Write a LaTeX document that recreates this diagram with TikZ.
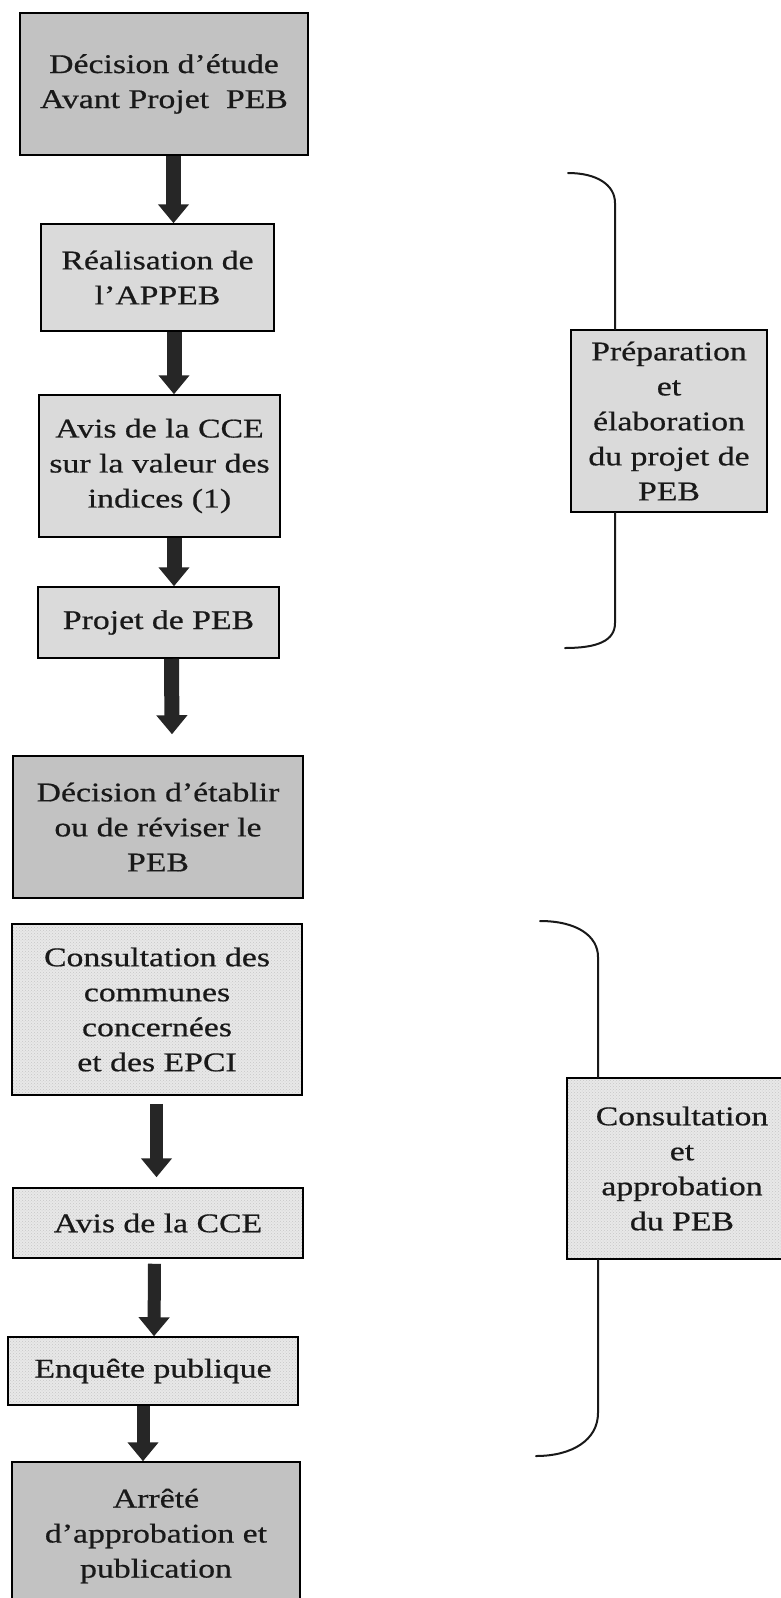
\documentclass[tikz,border=0pt]{standalone}
\usepackage{fontspec}
\setmainfont{Liberation Serif}[FakeStretch=1.25,FakeBold=0.6]
\usetikzlibrary{arrows.meta,patterns}
\definecolor{darkfill}{HTML}{C2C2C2}
\definecolor{lightfill}{HTML}{DADADA}
\definecolor{dotfill}{HTML}{E8E8E8}
\definecolor{arrowcol}{HTML}{262626}
\tikzset{
  box/.style={draw=black, line width=1.5pt, inner sep=0pt, align=center,
    font=\fontsize{27pt}{35pt}\selectfont, text=black!90},
  darkbox/.style={box, fill=darkfill},
  lightbox/.style={box, fill=lightfill},
  dotbox/.style={box, preaction={fill=dotfill}, pattern=crosshatch dots, pattern color=black!22},
  bigarrow/.style={draw=arrowcol, color=arrowcol, line width=15pt,
    -{Triangle[width=30pt,length=19pt]}},
  smallarrow/.style={bigarrow, line width=13pt},
  bracket/.style={draw=black!90, line width=2pt, line cap=round},
}
\begin{document}
\begin{tikzpicture}[x=1pt,y=-1pt]
\useasboundingbox (0,0) rectangle (781,1598);
\fill[white] (0,0) rectangle (781,1598);
\clip (0,0) rectangle (781,1598);

% left column
\node[darkbox, minimum width=288pt, minimum height=142pt] (b1) at (164,84)
  {Décision d’étude\\Avant Projet\ \ PEB};
\node[lightbox, minimum width=233pt, minimum height=107pt] (b2) at (157.5,277.5)
  {Réalisation de\\l’APPEB};
\node[lightbox, minimum width=241pt, minimum height=142pt] (b3) at (159.5,466)
  {Avis de la CCE\\sur la valeur des\\indices (1)};
\node[lightbox, minimum width=241pt, minimum height=71pt] (b4) at (158.5,622.5)
  {Projet de PEB};
\node[darkbox, minimum width=290pt, minimum height=142pt] (b5) at (158,827)
  {Décision d’établir\\ou de réviser le\\PEB};
\node[dotbox, minimum width=290pt, minimum height=171pt] (b6) at (157,1009.5)
  {Consultation des\\communes\\concernées\\et des EPCI};
\node[dotbox, minimum width=290pt, minimum height=70pt] (b7) at (158,1223)
  {Avis de la CCE};
\node[dotbox, minimum width=290pt, minimum height=68pt] (b8) at (153,1371)
  {Enquête publique};
\node[darkbox, minimum width=288pt, minimum height=148pt] (b9) at (156,1536)
  {Arrêté\\d’approbation et\\publication};

% right column
\node[lightbox, minimum width=196pt, minimum height=182pt] (r1) at (669,421)
  {Préparation\\et\\élaboration\\du projet de\\PEB};
\node[dotbox, minimum width=230pt, minimum height=181pt] (r2) at (682,1168.5)
  {Consultation\\et\\approbation\\du PEB};

% arrows
\draw[bigarrow] ([xshift=9.5pt]b1.south) -- ([xshift=16pt]b2.north);
\draw[bigarrow] ([xshift=16.5pt]b2.south) -- ([xshift=14.5pt]b3.north);
\draw[bigarrow] ([xshift=14.5pt]b3.south) -- ([xshift=15.5pt]b4.north);
\draw[bigarrow] ([xshift=13pt]b4.south) -- ([xshift=14pt,yshift=21pt]b5.north);
\draw[smallarrow] ([xshift=-0.5pt,yshift=-8pt]b6.south) -- ([xshift=-1.5pt,yshift=10pt]b7.north);
\draw[smallarrow] ([xshift=-3.5pt,yshift=-5pt]b7.south) -- ([xshift=1pt]b8.north);
\draw[smallarrow] ([xshift=-10pt]b8.south) -- ([xshift=-13pt]b9.north);

% brackets
\coordinate (k1a) at (568,173);
\coordinate (k1b) at (615,203);
\coordinate (k1c) at (615,623);
\coordinate (k1d) at (565,648);
\draw[bracket] (k1a) .. controls (597,173) and (615,185) .. (k1b) -- (k1b |- r1.north);
\draw[bracket] (k1c |- r1.south) -- (k1c) .. controls (615,641) and (597,648) .. (k1d);

\coordinate (k2a) at (540,921);
\coordinate (k2b) at (598,957);
\coordinate (k2c) at (598,1413);
\coordinate (k2d) at (536,1456);
\draw[bracket] (k2a) .. controls (577,921) and (598,936) .. (k2b) -- (k2b |- r2.north);
\draw[bracket] (k2c |- r2.south) -- (k2c) .. controls (598,1440) and (572,1456) .. (k2d);
\end{tikzpicture}
\end{document}
